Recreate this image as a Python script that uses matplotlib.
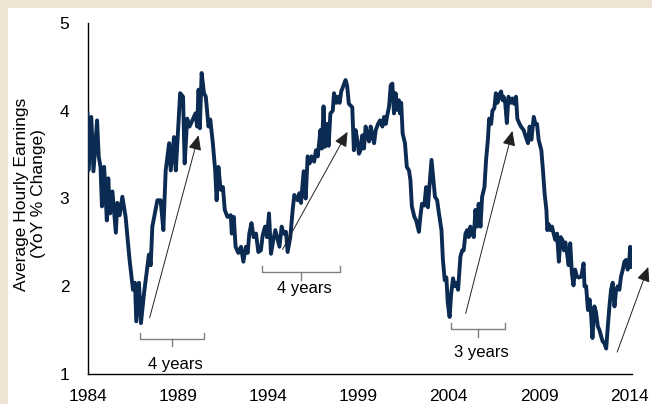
import matplotlib.pyplot as plt
from matplotlib.patches import Rectangle

plt.rcParams['font.family'] = ['Liberation Sans', 'DejaVu Sans']

# average hourly earnings, YoY % change (decimal year, value)
years = [
    1984.00, 1984.05, 1984.21, 1984.33, 1984.53, 1984.62, 1984.72, 1984.80, 1984.92, 1985.07,
    1985.15, 1985.25, 1985.38, 1985.57, 1985.65, 1985.78, 1985.93, 1986.11, 1986.33, 1986.52,
    1986.63, 1986.70, 1986.85, 1986.96, 1987.13, 1987.31, 1987.40, 1987.50, 1987.59, 1987.87,
    1988.05, 1988.20, 1988.33, 1988.52, 1988.61, 1988.79, 1988.89, 1989.13, 1989.29, 1989.38,
    1989.52, 1989.65, 1989.98, 1990.07, 1990.15, 1990.22, 1990.32, 1990.45, 1990.55, 1990.70,
    1990.80, 1990.94, 1991.07, 1991.15, 1991.25, 1991.37, 1991.50, 1991.60, 1991.75, 1991.93,
    1991.99, 1992.10, 1992.20, 1992.35, 1992.50, 1992.63, 1992.77, 1992.87, 1992.96, 1993.08,
    1993.20, 1993.33, 1993.46, 1993.60, 1993.70, 1993.83, 1993.94, 1994.05, 1994.16, 1994.29,
    1994.40, 1994.53, 1994.63, 1994.75, 1994.86, 1994.99, 1995.08, 1995.23, 1995.36, 1995.45,
    1995.64, 1995.73, 1995.82, 1995.97, 1996.08, 1996.19, 1996.30, 1996.40, 1996.55, 1996.65,
    1996.75, 1996.90, 1996.98, 1997.07, 1997.15, 1997.27, 1997.35, 1997.45, 1997.58, 1997.65,
    1997.78, 1997.87, 1997.96, 1998.05, 1998.16, 1998.29, 1998.38, 1998.47, 1998.66, 1998.75,
    1998.84, 1998.94, 1999.03, 1999.12, 1999.22, 1999.31, 1999.40, 1999.50, 1999.59, 1999.68,
    1999.77, 1999.87, 1999.96, 2000.09, 2000.20, 2000.33, 2000.42, 2000.52, 2000.60, 2000.70,
    2000.79, 2000.88, 2000.97, 2001.06, 2001.15, 2001.24, 2001.30, 2001.37, 2001.45, 2001.58,
    2001.68, 2001.80, 2001.88, 2001.96, 2002.10, 2002.20, 2002.35, 2002.43, 2002.52, 2002.65,
    2002.75, 2002.85, 2002.93, 2003.05, 2003.14, 2003.24, 2003.36, 2003.46, 2003.60, 2003.68,
    2003.78, 2003.87, 2003.95, 2004.05, 2004.14, 2004.24, 2004.33, 2004.42, 2004.52, 2004.65,
    2004.75, 2004.83, 2004.93, 2005.02, 2005.11, 2005.20, 2005.30, 2005.39, 2005.48, 2005.57,
    2005.66, 2005.76, 2005.85, 2005.98, 2006.07, 2006.17, 2006.24, 2006.35, 2006.42, 2006.53,
    2006.61, 2006.70, 2006.79, 2006.90, 2006.98, 2007.04, 2007.13, 2007.22, 2007.31, 2007.44,
    2007.53, 2007.62, 2007.73, 2007.80, 2007.90, 2008.00, 2008.15, 2008.24, 2008.39, 2008.48,
    2008.58, 2008.71, 2008.80, 2008.89, 2008.98, 2009.13, 2009.22, 2009.31, 2009.41, 2009.46,
    2009.53, 2009.62, 2009.72, 2009.81, 2009.90, 2010.00, 2010.10, 2010.20, 2010.29, 2010.38,
    2010.46, 2010.55, 2010.64, 2010.73, 2010.82, 2010.91, 2011.00, 2011.10, 2011.21, 2011.34,
    2011.47, 2011.52, 2011.61, 2011.71, 2011.80, 2011.89, 2011.96, 2012.07, 2012.16, 2012.26,
    2012.35, 2012.44, 2012.53, 2012.62, 2012.72, 2012.81, 2012.90, 2012.99, 2013.08, 2013.18,
    2013.27, 2013.36, 2013.45, 2013.54, 2013.64, 2013.73, 2013.82, 2013.91, 2014.00, 2014.05,
    2014.13,
]
earnings = [
    3.97, 3.32, 3.93, 3.31, 3.89, 3.48, 3.36, 2.91, 3.36, 2.75,
    3.23, 2.83, 3.08, 2.61, 2.95, 2.81, 3.02, 2.79, 2.30, 1.96,
    2.04, 1.60, 2.04, 1.58, 1.92, 2.22, 2.36, 2.24, 2.68, 2.98,
    2.98, 2.64, 3.32, 3.63, 3.32, 3.70, 3.32, 4.20, 4.16, 3.40,
    3.91, 3.82, 3.97, 3.82, 4.24, 3.80, 4.43, 4.20, 4.16, 3.82,
    3.90, 3.63, 3.32, 2.98, 3.36, 3.10, 3.13, 2.87, 2.79, 2.81,
    2.60, 2.79, 2.45, 2.38, 2.45, 2.28, 2.45, 2.38, 2.60, 2.72,
    2.56, 2.60, 2.39, 2.41, 2.58, 2.68, 2.56, 2.83, 2.37, 2.53,
    2.64, 2.53, 2.45, 2.68, 2.60, 2.62, 2.39, 2.56, 2.87, 3.04,
    2.98, 3.06, 2.95, 3.31, 3.00, 3.48, 3.40, 3.48, 3.42, 3.55,
    3.48, 3.78, 3.57, 4.05, 3.59, 3.85, 3.60, 3.97, 4.00, 4.20,
    4.09, 4.16, 4.09, 4.22, 4.28, 4.35, 4.28, 4.08, 4.04, 3.55,
    3.78, 3.67, 3.51, 3.55, 3.72, 3.57, 3.82, 3.72, 3.65, 3.82,
    3.72, 3.63, 3.78, 3.85, 3.89, 3.82, 3.93, 3.85, 3.95, 4.05,
    4.29, 4.31, 3.97, 4.20, 4.01, 4.12, 3.97, 4.09, 3.74, 3.63,
    3.36, 3.32, 3.21, 2.91, 2.79, 2.75, 2.62, 2.79, 2.94, 2.92,
    3.13, 2.90, 3.13, 3.44, 3.24, 3.02, 2.98, 2.83, 2.64, 2.30,
    2.07, 2.10, 1.81, 1.65, 1.92, 2.09, 2.00, 2.04, 1.96, 2.34,
    2.41, 2.41, 2.60, 2.64, 2.56, 2.68, 2.60, 2.56, 2.87, 2.68,
    2.94, 2.68, 3.02, 3.13, 3.44, 3.67, 3.91, 3.85, 4.00, 4.03,
    4.20, 4.09, 4.18, 4.22, 4.12, 4.16, 4.09, 3.86, 4.16, 4.09,
    4.14, 4.08, 4.16, 3.91, 3.86, 3.82, 3.78, 3.72, 3.63, 3.82,
    3.67, 3.93, 3.85, 3.85, 3.67, 3.55, 3.32, 3.06, 2.87, 2.64,
    2.71, 2.64, 2.68, 2.60, 2.53, 2.60, 2.28, 2.56, 2.53, 2.41,
    2.50, 2.38, 2.24, 2.49, 2.15, 2.01, 2.19, 2.11, 2.10, 2.11,
    2.26, 2.00, 2.00, 1.73, 1.85, 1.66, 1.41, 1.77, 1.70, 1.54,
    1.50, 1.43, 1.37, 1.35, 1.29, 1.54, 1.77, 1.96, 2.04, 1.77,
    1.96, 2.00, 1.96, 2.11, 2.19, 2.28, 2.30, 2.19, 2.30, 2.45,
    2.22,
]

x_ticks = [1984, 1989, 1994, 1999, 2004, 2009, 2014]
y_ticks = [1, 2, 3, 4, 5]

# arrows: (tail year, tail value, head year, head value)
arrows = [
    (1987.44, 1.64, 1990.15, 3.72),
    (1994.80, 2.42, 1998.40, 3.76),
    (2004.94, 1.69, 2007.53, 3.77),
    (2013.33, 1.25, 2015.05, 2.22),
]
# brackets: (start year, end year, bracket value, label, label value)
brackets = [
    (1986.89, 1990.44, 1.40, '4 years', 1.11),
    (1993.68, 1997.96, 2.16, '4 years', 1.98),
    (2004.15, 2007.11, 1.51, '3 years', 1.25),
]

navy = '#0B2B52'
beige = '#EFE4D3'

fig = plt.figure(figsize=(6.52, 4.04), dpi=100)
fig.patch.set_facecolor('white')
fig.add_artist(Rectangle((0, 1 - 8 / 404), 1, 8 / 404, transform=fig.transFigure,
                         facecolor=beige, edgecolor='none'))
fig.add_artist(Rectangle((0, 0), 8 / 652, 1, transform=fig.transFigure,
                         facecolor=beige, edgecolor='none'))

ax = fig.add_axes([87.5 / 652, 30 / 404, (632 - 87.5) / 652, (374 - 23) / 404])
ax.plot(years, earnings, color=navy, lw=2.8, solid_joinstyle='round', zorder=3)

for x0, y0, x1, y1 in arrows:
    ax.annotate('', xy=(x1, y1), xytext=(x0, y0), annotation_clip=False,
                arrowprops=dict(arrowstyle='-|>,head_length=0.9,head_width=0.4',
                                mutation_scale=10, color='#222222', lw=0.7,
                                shrinkA=0, shrinkB=0), zorder=4)

for x0, x1, yb, label, yl in brackets:
    xm = (x0 + x1) / 2
    ax.plot([x0, x0, x1, x1], [yb + 0.07, yb, yb, yb + 0.07], color='#808080', lw=1)
    ax.plot([xm, xm], [yb, yb - 0.085], color='#808080', lw=1)
    ax.text(xm + 0.2, yl, label, ha='center', va='center', fontsize=12)

ax.set_xlim(1984, 2014.15)
ax.set_ylim(1, 5)
ax.set_xticks(x_ticks)
ax.set_yticks(y_ticks)
ax.tick_params(length=0, labelsize=12.5)
ax.tick_params(axis='y', pad=13)
ax.tick_params(axis='x', pad=11)
for side in ['top', 'right']:
    ax.spines[side].set_visible(False)
for side in ['left', 'bottom']:
    ax.spines[side].set_linewidth(1)

fig.text(30 / 652, 0.52, 'Average Hourly Earnings\n(YoY % Change)', rotation=90,
         ha='center', va='center', multialignment='center', fontsize=12.5,
         linespacing=1.1)

fig.savefig('out.png', dpi=100)
